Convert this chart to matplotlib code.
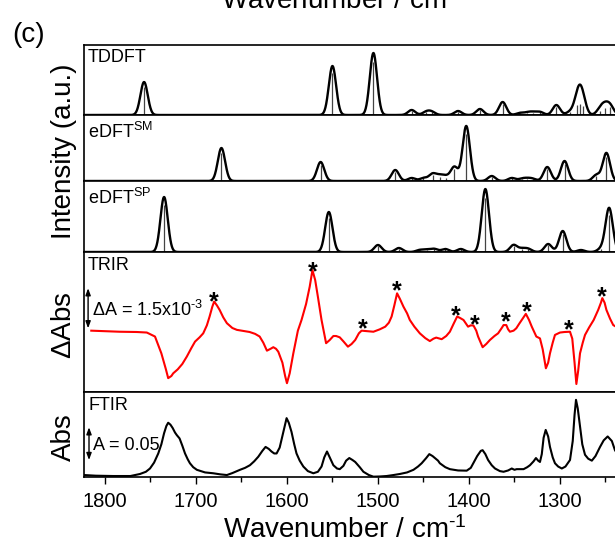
import numpy as np
import matplotlib.pyplot as plt

plt.rcParams['font.family'] = ['Liberation Sans', 'DejaVu Sans']
plt.rcParams['mathtext.fontset'] = 'custom'
plt.rcParams['mathtext.rm'] = 'Liberation Sans'
plt.rcParams['mathtext.it'] = 'Liberation Sans:italic'
plt.rcParams['mathtext.bf'] = 'Liberation Sans:bold'

# computed stick spectra: position (cm-1) and intensity (a.u.)
tddft_pos = [1757, 1550, 1505, 1463, 1447, 1441, 1412, 1388, 1363, 1344, 1336, 1330,
             1322, 1304, 1289, 1281, 1278, 1275, 1256, 1251, 1245]
tddft_int = [33, 49, 62, 5, 3, 3, 4, 6, 13, 2, 2, 2.5, 3, 10, 3, 12, 13, 11, 5, 8, 9]

sm_pos = [1672, 1563, 1481, 1463, 1450, 1440, 1432, 1425, 1416, 1403, 1375, 1353,
          1342, 1336, 1330, 1314, 1295, 1260, 1249]
sm_int = [33, 19, 11, 3, 3, 7, 5, 4, 14, 55, 5, 3, 2, 2, 2, 14, 20, 6, 28]

sp_pos = [1735, 1554, 1500, 1477, 1454, 1446, 1438, 1426, 1409, 1382, 1351, 1342,
          1335, 1313, 1297, 1277, 1255, 1246]
sp_int = [55, 40, 7, 4, 2, 2, 3, 3, 3, 63, 7, 3, 3, 8, 21, 2, 3, 44]

# TRIR difference spectrum (units of 1e-3)
trir_wn = [1815, 1800, 1784, 1765, 1754, 1745, 1738, 1733, 1730.5, 1727, 1725, 1720,
           1715, 1710, 1705, 1701, 1696, 1692, 1688, 1685, 1682, 1680, 1677, 1674,
           1670, 1666, 1660, 1655, 1648, 1641, 1635, 1630, 1626, 1622, 1618, 1615,
           1612, 1609.5, 1605, 1602, 1600, 1597, 1593, 1588, 1584, 1579, 1575, 1572,
           1569, 1566, 1562, 1557, 1553, 1549, 1546, 1542, 1538, 1533, 1529, 1525,
           1521, 1518, 1512, 1505, 1498, 1492, 1488, 1485, 1482, 1479, 1476, 1472,
           1468, 1465, 1460, 1454, 1448, 1443, 1439, 1436, 1430, 1425, 1421, 1417,
           1413, 1410, 1406, 1401, 1398, 1395, 1392, 1390, 1385, 1381, 1377, 1372,
           1368, 1364, 1362, 1359, 1357, 1355, 1351, 1348, 1345, 1342, 1337.5, 1334,
           1331, 1326, 1322, 1319, 1315.5, 1313, 1311, 1308, 1305.5, 1300, 1295, 1289,
           1286.5, 1284, 1282, 1280, 1278, 1275, 1272.5, 1268, 1263, 1258, 1255,
           1253.5, 1251, 1249, 1245, 1241.5, 1236]
trir_dabs = [0.00, -0.02, -0.04, -0.05, -0.07, -0.22, -0.85, -1.45, -1.78, -1.70, -1.60,
             -1.45, -1.25, -0.97, -0.65, -0.41, -0.25, -0.10, 0.20, 0.53, 0.90, 1.09,
             0.95, 0.78, 0.50, 0.28, 0.10, 0.03, -0.01, -0.05, -0.12, -0.22, -0.45,
             -0.75, -0.68, -0.62, -0.68, -0.79, -1.20, -1.70, -1.97, -1.60, -0.85, 0.00,
             0.40, 1.00, 1.65, 2.27, 1.90, 1.27, 0.40, -0.47, -0.35, -0.20, -0.20,
             -0.25, -0.40, -0.60, -0.50, -0.35, -0.10, 0.00, -0.02, -0.04, 0.05, 0.15,
             0.30, 0.53, 0.95, 1.40, 1.20, 0.90, 0.65, 0.40, 0.15, -0.10, -0.28, -0.39,
             -0.30, -0.26, -0.32, -0.20, -0.04, 0.25, 0.53, 0.48, 0.40, 0.15, 0.20,
             0.19, 0.00, -0.22, -0.62, -0.50, -0.35, -0.20, -0.10, 0.10, 0.21, 0.21,
             0.05, -0.04, 0.00, 0.09, 0.25, 0.40, 0.63, 0.40, 0.15, -0.22, -0.29, -0.70,
             -1.41, -1.20, -0.85, -0.45, -0.16, -0.07, -0.05, -0.04, -0.30, -1.20,
             -2.00, -1.50, -0.85, -0.45, -0.16, 0.12, 0.40, 0.78, 1.05, 1.22, 1.05,
             0.78, 0.45, 0.21, 0.10]

star_wn = [1680, 1572, 1517, 1479, 1414, 1394, 1360, 1337, 1290, 1254]
star_dabs = [1.34, 2.46, 0.34, 1.77, 0.84, 0.50, 0.59, 0.96, 0.28, 1.55]

# FTIR absorbance
ftir_wn = [1823, 1810, 1791, 1772, 1761.5, 1755, 1750.5, 1746, 1741.4, 1738, 1735,
           1732.5, 1730.5, 1728, 1725.6, 1723, 1721, 1718, 1715, 1712, 1709, 1706.6,
           1703, 1699, 1690, 1681, 1673, 1666, 1660, 1651.6, 1646, 1640.7, 1636,
           1631.5, 1627, 1623.5, 1620, 1617, 1614, 1611.4, 1608, 1606, 1603, 1600.4,
           1598, 1595, 1592, 1589.5, 1586, 1582, 1577, 1571, 1566, 1562, 1559, 1556,
           1553, 1549, 1545, 1542, 1538, 1535, 1531.5, 1528, 1525, 1520, 1516, 1510,
           1505, 1498, 1490.5, 1483, 1476, 1468, 1461, 1456, 1452, 1447, 1443.6, 1440,
           1437.4, 1434, 1432, 1426, 1421, 1412, 1402.5, 1398, 1395.3, 1391, 1387, 1385,
           1382, 1379, 1375, 1371.4, 1366, 1362, 1357, 1353, 1350, 1347.6, 1344, 1340,
           1336, 1333, 1329, 1326.4, 1324, 1322, 1320, 1318, 1315.7, 1313, 1311, 1308,
           1305.5, 1302, 1298, 1294, 1289, 1286, 1284, 1282.4, 1280.5, 1278, 1275.5,
           1272.5, 1269, 1265, 1261, 1256, 1252, 1247.6, 1243, 1239.6, 1232]
ftir_abs = [0.003, 0.002, 0.0015, 0.0015, 0.0046, 0.008, 0.013, 0.022, 0.036, 0.050,
            0.067, 0.078, 0.083, 0.080, 0.075, 0.068, 0.064, 0.059, 0.048, 0.036, 0.027,
            0.021, 0.015, 0.011, 0.007, 0.0057, 0.004, 0.003, 0.006, 0.011, 0.014,
            0.018, 0.024, 0.031, 0.040, 0.046, 0.043, 0.039, 0.036, 0.036, 0.045, 0.057,
            0.075, 0.090, 0.083, 0.069, 0.050, 0.036, 0.025, 0.016, 0.009, 0.0057,
            0.008, 0.016, 0.030, 0.039, 0.030, 0.018, 0.013, 0.012, 0.017, 0.025, 0.029,
            0.026, 0.023, 0.015, 0.008, 0.003, 0.0005, 0.0008, 0.0015, 0.003, 0.0046,
            0.007, 0.011, 0.016, 0.021, 0.029, 0.035, 0.032, 0.029, 0.025, 0.021, 0.015,
            0.012, 0.010, 0.0097, 0.014, 0.021, 0.032, 0.040, 0.041, 0.035, 0.026, 0.018,
            0.013, 0.009, 0.008, 0.010, 0.013, 0.011, 0.012, 0.012, 0.012, 0.015, 0.018,
            0.024, 0.029, 0.025, 0.023, 0.035, 0.060, 0.072, 0.062, 0.046, 0.030, 0.021,
            0.016, 0.013, 0.016, 0.026, 0.055, 0.095, 0.118, 0.105, 0.077, 0.050, 0.034,
            0.028, 0.025, 0.032, 0.046, 0.056, 0.062, 0.055, 0.041, 0.025]

sigma = 4.0
W, H = 615, 545


def fx(px):
    return px / W


def fy(py):
    return 1 - py / H


fig = plt.figure(figsize=(6.15, 5.45), dpi=100)
left, right = 84, 651
bounds = [(45, 115), (115, 181), (181, 252), (252, 392), (392, 477)]
axes = []
for top, bot in bounds:
    ax = fig.add_axes([fx(left), fy(bot), fx(right - left), (bot - top) / H])
    ax.set_xlim(1823, 1200)
    ax.set_yticks([])
    for s in ax.spines.values():
        s.set_linewidth(1.2)
    ax.tick_params(axis='x', bottom=False, labelbottom=False)
    axes.append(ax)

grid = np.linspace(1823, 1200, 3000)
sticks = [(tddft_pos, tddft_int, 70), (sm_pos, sm_int, 66), (sp_pos, sp_int, 71)]
for ax, (pos, inten, top) in zip(axes[:3], sticks):
    env = np.zeros_like(grid)
    for p, h in zip(pos, inten):
        env += h * np.exp(-(grid - p) ** 2 / (2 * sigma ** 2))
    ax.vlines(pos, 0, np.array(inten) * 0.85, color='#444444', lw=0.9)
    ax.plot(grid, env, color='black', lw=1.7)
    ax.set_ylim(0, top)

ax4 = axes[3]
ax4.plot(trir_wn, trir_dabs, color='red', lw=1.5)
ax4.set_ylim(-2.30, 2.95)
for wn, v in zip(star_wn, star_dabs):
    ax4.annotate('*', xy=(wn, v), xytext=(0, -10.5), textcoords='offset points',
                 ha='center', va='baseline', fontsize=18, fontweight='bold')
ax4.annotate('', xy=(1818.5, 1.59), xytext=(1818.5, 0.09),
             arrowprops=dict(arrowstyle='<|-|>,head_length=0.4,head_width=0.15',
                             color='black', lw=1, shrinkA=0, shrinkB=0))

ax5 = axes[4]
ax5.plot(ftir_wn, ftir_abs, color='black', lw=1.5)
ax5.set_ylim(0, 0.130)
ax5.annotate('', xy=(1817.5, 0.076), xytext=(1817.5, 0.026),
             arrowprops=dict(arrowstyle='<|-|>,head_length=0.4,head_width=0.15',
                             color='black', lw=1, shrinkA=0, shrinkB=0))
ax5.set_xticks(np.arange(1800, 1299, -100))
ax5.set_xticks(np.arange(1750, 1249, -100), minor=True)
ax5.tick_params(axis='x', which='both', bottom=True, labelbottom=True, direction='out',
                width=1.0, labelsize=14.5, pad=6)
ax5.tick_params(axis='x', which='major', length=5)
ax5.tick_params(axis='x', which='minor', length=3.5)

# panel labels
fs = 13
fig.text(fx(88), fy(62.5), 'TDDFT', fontsize=fs, va='baseline')
fig.text(fx(88), fy(138.5), r'eDFT$^{\mathregular{SM}}$', fontsize=fs, va='baseline')
fig.text(fx(88), fy(204), r'eDFT$^{\mathregular{SP}}$', fontsize=fs, va='baseline')
fig.text(fx(88), fy(270), 'TRIR', fontsize=fs, va='baseline')
fig.text(fx(88), fy(410), 'FTIR', fontsize=fs, va='baseline')
fig.text(fx(91.5), fy(316), r'$\mathregular{\Delta}$A = 1.5x10$^{\text{-3}}$',
         fontsize=fs, va='baseline')
fig.text(fx(92.5), fy(449.5), 'A = 0.05', fontsize=fs, va='baseline')

# axis titles
fig.text(fx(345), fy(538), r'Wavenumber / cm$^{\text{-1}}$', fontsize=20,
         ha='center', va='baseline')
fig.text(fx(343), fy(9), r'Wavenumber / cm$^{\text{-1}}$', fontsize=20,
         ha='center', va='baseline')
fig.text(fx(12), fy(42), '(c)', fontsize=20, va='baseline')
for label, yc in [('Intensity (a.u.)', 151.5), (r'$\mathregular{\Delta}$Abs', 325),
                  ('Abs', 437.5)]:
    fig.text(fx(71), fy(yc), label, fontsize=20, rotation=90, rotation_mode='anchor',
             ha='center', va='baseline')

fig.savefig('out.png', dpi=100)
